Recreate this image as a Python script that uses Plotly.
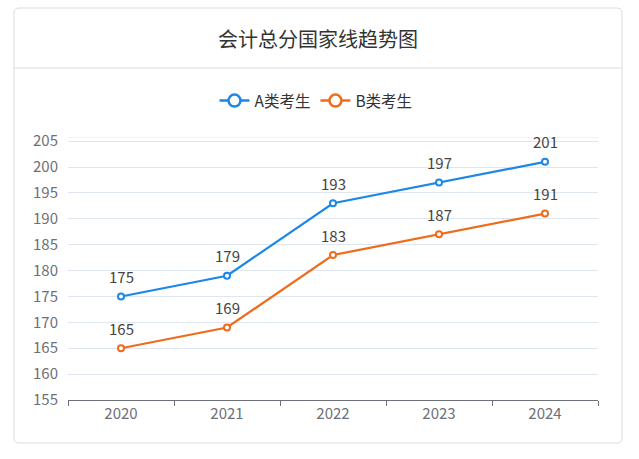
import plotly.graph_objects as go

years = ["2020", "2021", "2022", "2023", "2024"]
series_a = [175, 179, 193, 197, 201]
series_b = [165, 169, 183, 187, 191]
name_a = "A类考生"
name_b = "B类考生"
title = "会计总分国家线趋势图"

W, H = 639, 459
L, R, T, B = 68, 598, 137, 400  # plot area in px
ymin, ymax = 155, 205.8

def px(x):
    return (x - L) / (R - L)

def py(y):
    return (B - y) / (B - T)

FONT = "Noto Sans CJK SC, Microsoft YaHei, sans-serif"
blue = "#1c87e6"
orange = "#ee6c1a"

fig = go.Figure()
for name, vals, col in [(name_a, series_a, blue), (name_b, series_b, orange)]:
    fig.add_trace(go.Scatter(
        x=years, y=vals, name=name, mode="lines+markers", showlegend=False,
        line=dict(color=col, width=2.2),
        marker=dict(symbol="circle", size=6, color="white", line=dict(color=col, width=2)),
        cliponaxis=False, hoverinfo="skip",
    ))
    for i, yv in enumerate(vals):
        fig.add_annotation(x=i, y=yv, xref="x", yref="y", text=str(yv), showarrow=False, yshift=20,
                           font=dict(size=15, color="#444", family=FONT))
for name, col in [(name_a, blue), (name_b, orange)]:
    fig.add_trace(go.Scatter(
        x=[None], y=[None], name=name, mode="lines+markers",
        line=dict(color=col, width=2.5),
        marker=dict(symbol="circle", size=12, color="white", line=dict(color=col, width=2.5)),
    ))

# card with rounded corners
x0, x1, y0, y1 = 14, 622, 8, 443
r = 5
def P(x, y):
    return f"{px(x):.5f},{py(y):.5f}"
path = (f"M {P(x0+r, y0)} L {P(x1-r, y0)} Q {P(x1, y0)} {P(x1, y0+r)} "
        f"L {P(x1, y1-r)} Q {P(x1, y1)} {P(x1-r, y1)} "
        f"L {P(x0+r, y1)} Q {P(x0, y1)} {P(x0, y1-r)} "
        f"L {P(x0, y0+r)} Q {P(x0, y0)} {P(x0+r, y0)} Z")
fig.add_shape(type="path", path=path, xref="paper", yref="paper",
              line=dict(color="#dcdcdc", width=1), fillcolor="rgba(0,0,0,0)", layer="below")
fig.add_shape(type="line", xref="paper", yref="paper", x0=px(x0), x1=px(x1), y0=py(68), y1=py(68),
              line=dict(color="#dcdcdc", width=1), layer="below")
# top max grid line
fig.add_shape(type="line", xref="paper", yref="y", x0=0, x1=1, y0=ymax, y1=ymax,
              line=dict(color="#e0e6f1", width=1), layer="below")

fig.add_annotation(text=title, xref="paper", yref="paper", x=px(318), y=py(38),
                   showarrow=False, xanchor="center", yanchor="middle",
                   font=dict(size=20, color="#333", family=FONT))

fig.update_layout(
    width=W, height=H,
    margin=dict(l=L, r=W - R, t=T, b=H - B),
    paper_bgcolor="white", plot_bgcolor="white",
    font=dict(family=FONT),
    showlegend=True,
    legend=dict(orientation="h", x=0.5 - 17 / (R - L), xanchor="center", y=py(101), yanchor="middle",
                font=dict(size=15.5, color="#333", family=FONT), itemwidth=30,
                bgcolor="rgba(0,0,0,0)"),
    xaxis=dict(type="category", range=[-0.5, 4.5], tickson="boundaries", ticks="outside", ticklen=5,
               tickcolor="#6e7079", showline=True, linecolor="#6e7079", linewidth=1,
               showgrid=False, tickfont=dict(size=15, color="#6e7079"), fixedrange=True),
    yaxis=dict(range=[ymin, ymax], dtick=5, tick0=155, showgrid=True, gridcolor="#e0e6f1",
               zeroline=False, showline=False, ticks="", ticklabelstandoff=9,
               tickfont=dict(size=15, color="#6e7079"), fixedrange=True),
)

fig.write_html("out.html", config={"displayModeBar": False},
               post_script="document.body.style.margin='0';")
